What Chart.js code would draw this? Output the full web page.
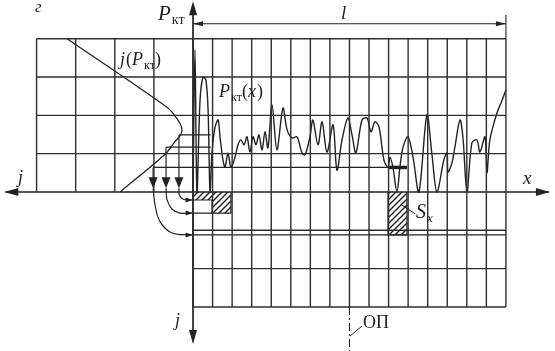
<!DOCTYPE html>
<html>
<head>
<meta charset="utf-8">
<script src="https://cdn.jsdelivr.net/npm/chart.js@4.4.1/dist/chart.umd.min.js"></script>
<style>
  html, body { margin: 0; padding: 0; background: #fff; }
  canvas { display: block; }
</style>
</head>
<body>
<canvas id="diagram" width="555" height="351"></canvas>
<script>
// grid: x in narrow columns, P in rows
const rightCols = [0, 1, 2, 3, 4, 5, 6, 7, 8, 9, 10, 11, 12, 13, 14, 15, 16];
const leftCols = [-8, -6, -4, -2];
const upperRows = [1, 2, 3, 4];
const lowerRows = [-1, -2, -3];

// P_kt(x) trace
const signalX = [0, 0.10, 0.20, 0.36, 0.51, 0.66, 0.77, 0.87, 0.97, 1.12, 1.28, 1.38, 1.53, 1.64, 1.79, 1.94,
  2.15, 2.30, 2.45, 2.61, 2.76, 2.91, 3.07, 3.22, 3.37, 3.53, 3.68, 3.83, 4.04, 4.29, 4.60, 4.81,
  5.06, 5.32, 5.57, 5.73, 5.98, 6.13, 6.39, 6.60, 6.85, 7.16, 7.36, 7.62, 7.92, 8.13, 8.33, 8.64,
  8.90, 9.10, 9.30, 9.51, 9.76, 9.97, 10.07, 10.22, 10.43, 10.58, 10.74, 10.99, 11.25, 11.55, 11.96,
  12.22, 12.47, 12.83, 12.99, 13.04, 13.24, 13.39, 13.65, 13.80, 14.01, 14.26, 14.52, 14.67, 14.93,
  15.03, 15.18, 15.54, 15.75, 16.00];
const signalY = [0, 3.71, 0, 2.40, 3.00, 2.92, 2.14, 0, 1.02, 1.67, 1.88, 1.44, 0.84, 0.65, 1.02, 0.65,
  0.91, 1.23, 1.36, 1.23, 1.44, 1.04, 1.44, 1.23, 1.49, 1.10, 1.57, 1.15, 2.27, 1.10, 2.19, 1.62,
  1.41, 1.44, 1.02, 0.97, 1.44, 1.88, 1.23, 1.83, 1.04, 1.75, 0.57, 1.36, 1.93, 1.49, 1.02, 1.88,
  1.93, 1.57, 1.83, 1.70, 0.84, 0.65, 0.91, 0.65, 0, 0.65, 1.17, 1.44, 0.91, 0, 2.01,
  0.97, 0, 0.84, 1.02, 0.52, 0.76, 1.17, 1.88, 1.44, 0, 1.28, 1.36, 1.04, 1.44,
  0.50, 1.36, 2.06, 2.32, 2.66];

// j(P_kt) density, drawn leftwards
const densityX = [-6.44, -1.30, -0.80, -0.58, -0.62, -0.95, -1.40, -3.73];
const densityY = [4.0, 2.20, 1.90, 1.68, 1.50, 1.30, 1.00, 0];

// the three P levels, where they meet the density, and how deep each j lands
const levelP = [1.49, 1.17, 0.64];
const levelStart = [-0.72, -1.38, -2.04];
const levelEnd = [0.90, 0.90, 10.94];
const jDepth = [-0.21, -0.55, -1.12];

// hatched j bars and S_x
const barEdges = [0, 0.97, 1.94];
const sxLeft = 9.97, sxRight = 10.94;
const span = [0, 16];       // l
const cutX = 8;             // OP

const ink = '#222';
const seg = (pts) => pts.concat([{ x: pts[pts.length - 1].x, y: null }]);

const gridPts = [];
rightCols.forEach(c => gridPts.push(...seg([{ x: c, y: -3 }, { x: c, y: 4 }])));
leftCols.forEach(c => gridPts.push(...seg([{ x: c, y: 0 }, { x: c, y: 4 }])));
upperRows.forEach(r => gridPts.push(...seg([{ x: -8, y: r }, { x: 16, y: r }])));
lowerRows.forEach(r => gridPts.push(...seg([{ x: 0, y: r }, { x: 16, y: r }])));

const levelPts = [];
levelP.forEach((p, i) => {
  levelPts.push(...seg([{ x: levelStart[i], y: p }, { x: levelEnd[i], y: p }]));
  levelPts.push(...seg([{ x: levelStart[i], y: p }, { x: levelStart[i], y: 0.3 }]));
});
levelPts.push(...seg([{ x: 0, y: jDepth[1] }, { x: barEdges[1], y: jDepth[1] }]));
levelPts.push(...seg([{ x: 0, y: jDepth[2] }, { x: 16, y: jDepth[2] }]));

// curved transfer arrows
const bend1 = [{ x: -0.72, y: 0.1 }, { x: -0.70, y: -0.08 }, { x: -0.50, y: -0.19 }, { x: -0.05, y: -0.21 }];
const bend2 = [{ x: -1.38, y: 0.1 }, { x: -1.33, y: -0.2 }, { x: -1.07, y: -0.45 }, { x: -0.66, y: -0.55 }, { x: -0.05, y: -0.55 }];
const bend3 = [{ x: -2.04, y: 0.1 }, { x: -1.94, y: -0.34 }, { x: -1.68, y: -0.78 }, { x: -1.07, y: -1.07 }, { x: -0.05, y: -1.12 }];

function hatch() {
  const c = document.createElement('canvas');
  c.width = 6; c.height = 6;
  const g = c.getContext('2d');
  g.strokeStyle = '#1e1e1e';
  g.lineWidth = 1.4;
  g.beginPath();
  g.moveTo(-1, 7); g.lineTo(7, -1);
  g.moveTo(-1, 1); g.lineTo(1, -1);
  g.moveTo(5, 7); g.lineTo(7, 5);
  g.stroke();
  return g.createPattern(c, 'repeat');
}
const hatchFill = hatch();

function line(data, extra) {
  return Object.assign({
    data, borderColor: ink, borderWidth: 1.3, pointRadius: 0, fill: false,
    tension: 0, spanGaps: false, clip: false
  }, extra || {});
}

const arrows = [
  { x: -9.65, y: 0, dir: 'left', len: 14, half: 4 },
  { x: 18.25, y: 0, dir: 'right', len: 14, half: 4 },
  { x: 0, y: 4.98, dir: 'up', len: 14, half: 4 },
  { x: 0, y: -3.97, dir: 'down', len: 14, half: 4 },
  { x: span[0], y: 4.39, dir: 'left', len: 10, half: 2.5 },
  { x: span[1], y: 4.39, dir: 'right', len: 10, half: 2.5 },
  { x: -0.02, y: jDepth[0], dir: 'right', len: 7, half: 2.5 },
  { x: -0.02, y: jDepth[1], dir: 'right', len: 7, half: 2.5 },
  { x: -0.02, y: jDepth[2], dir: 'right', len: 7, half: 2.5 },
  { x: levelStart[0], y: 0.1, dir: 'down', len: 11, half: 4.5 },
  { x: levelStart[1], y: 0.1, dir: 'down', len: 11, half: 4.5 },
  { x: levelStart[2], y: 0.1, dir: 'down', len: 11, half: 4.5 }
];

const labels = [
  { x: -8.08, y: 4.70, runs: [['г', 'italic', 17, 0]] },
  { x: -1.79, y: 4.49, runs: [['P', 'italic', 21, 0], ['кт', '', 14, 4]] },
  { x: 7.57, y: 4.52, runs: [['l', 'italic', 19, 0]] },
  { x: -3.73, y: 3.32, runs: [['j', 'italic', 18, 0], ['(', '', 18, 0], ['P', 'italic', 18, 0], ['кт', '', 12, 4], [')', '', 18, 0]] },
  { x: 1.33, y: 2.48, runs: [['P', 'italic', 18, 0], ['кт', '', 12, 4], ['(', '', 18, 0], ['x', 'italic', 18, 0], [')', '', 18, 0]] },
  { x: -8.95, y: 0.23, runs: [['j', 'italic', 18, 0]] },
  { x: 16.87, y: 0.21, runs: [['x', 'italic', 19, 0]] },
  { x: -0.92, y: -3.50, runs: [['j', 'italic', 18, 0]] },
  { x: 11.40, y: -0.68, runs: [['S', 'italic', 20, 0], ['x', 'italic', 13, 4]] },
  { x: 8.69, y: -3.55, runs: [['ОП', '', 18, 0]] }
];

const decor = {
  id: 'decor',
  afterDatasetsDraw(chart) {
    const { ctx } = chart;
    const xs = chart.scales.x, ys = chart.scales.y;
    ctx.save();
    ctx.fillStyle = ink;
    arrows.forEach(a => {
      const px = xs.getPixelForValue(a.x), py = ys.getPixelForValue(a.y);
      const d = { left: [-1, 0], right: [1, 0], up: [0, -1], down: [0, 1] }[a.dir];
      const bx = px - d[0] * a.len, by = py - d[1] * a.len;
      ctx.beginPath();
      ctx.moveTo(px, py);
      ctx.lineTo(bx - d[1] * a.half, by + d[0] * a.half);
      ctx.lineTo(bx + d[1] * a.half, by - d[0] * a.half);
      ctx.closePath();
      ctx.fill();
    });
    ctx.textBaseline = 'alphabetic';
    labels.forEach(l => {
      let px = xs.getPixelForValue(l.x);
      const py = ys.getPixelForValue(l.y);
      l.runs.forEach(([t, st, sz, dy]) => {
        ctx.font = `${st} ${sz}px "Liberation Serif", "DejaVu Serif", serif`;
        ctx.fillText(t, px, py + dy);
        px += ctx.measureText(t).width + (st === 'italic' ? 1 : 0);
      });
    });
    ctx.restore();
  }
};

new Chart(document.getElementById('diagram'), {
  type: 'line',
  data: {
    datasets: [
      line(gridPts, { borderWidth: 1.4, borderColor: '#2e2e2e' }),
      line(seg([{ x: -9.6, y: 0 }, { x: 18.2, y: 0 }]).concat(seg([{ x: 0, y: 4.9 }, { x: 0, y: -3.9 }])), { borderWidth: 1.7 }),
      line(levelPts, { borderWidth: 1.2 }),
      line([{ x: sxLeft, y: levelP[2] }, { x: sxRight, y: levelP[2] }], { borderWidth: 3.5 }),
      line([
        { x: barEdges[0], y: 0 }, { x: barEdges[0], y: jDepth[0] }, { x: barEdges[1], y: jDepth[0] },
        { x: barEdges[1], y: jDepth[1] }, { x: barEdges[2], y: jDepth[1] }, { x: barEdges[2], y: 0 }
      ], { fill: { value: 0 }, backgroundColor: hatchFill, borderWidth: 1.2 }),
      line([
        { x: sxLeft, y: 0 }, { x: sxLeft, y: jDepth[2] }, { x: sxRight, y: jDepth[2] }, { x: sxRight, y: 0 }
      ], { fill: { value: 0 }, backgroundColor: hatchFill, borderWidth: 1.2 }),
      line(signalX.map((x, i) => ({ x, y: signalY[i] })), { borderWidth: 1.4, tension: 0.32 }),
      line(densityX.map((x, i) => ({ x, y: densityY[i] })), { borderWidth: 1.3, tension: 0.3 }),
      line(bend1, { tension: 0.4, borderWidth: 1.2 }),
      line(bend2, { tension: 0.4, borderWidth: 1.2 }),
      line(bend3, { tension: 0.4, borderWidth: 1.2 }),
      line(seg([{ x: span[0], y: 4.39 }, { x: span[1], y: 4.39 }]).concat(seg([{ x: span[1], y: 4.62 }, { x: span[1], y: 4 }])), { borderWidth: 1.1 }),
      line([{ x: cutX, y: -3 }, { x: cutX, y: -4.2 }], { borderWidth: 1.1, borderDash: [8, 3, 2, 3] }),
      line(seg([{ x: 10.68, y: -0.34 }, { x: 11.35, y: -0.57 }]).concat(seg([{ x: 8.03, y: -3.76 }, { x: 8.64, y: -3.5 }])), { borderWidth: 1 })
    ]
  },
  options: {
    responsive: false,
    animation: false,
    devicePixelRatio: 1,
    layout: { padding: 0 },
    plugins: { legend: { display: false }, tooltip: { enabled: false } },
    scales: {
      x: { type: 'linear', min: -9.87, max: 18.51, display: false },
      y: { type: 'linear', min: -4.15, max: 5.01, display: false }
    }
  },
  plugins: [decor]
});
</script>
</body>
</html>
